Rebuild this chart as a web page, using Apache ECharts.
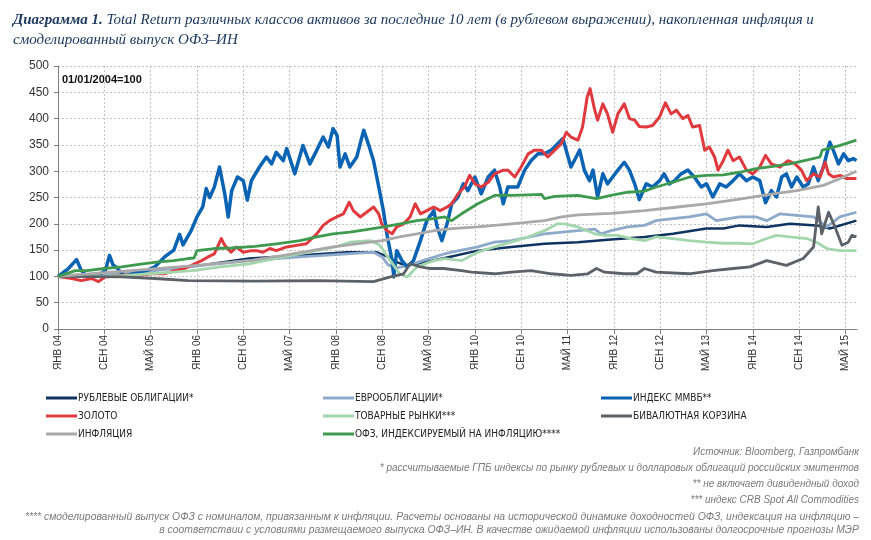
<!DOCTYPE html>
<html><head><meta charset="utf-8">
<script src="https://cdn.jsdelivr.net/npm/echarts@6/dist/echarts.min.js"></script>
<style>html,body{margin:0;padding:0;background:#fff}#c{width:871px;height:540px}</style>
</head><body><div id="c"></div>
<script>
// x = months since Jan 2004, y = index (01/01/2004 = 100)
const tickLabels = ['ЯНВ 04','СЕН 04','МАЙ 05','ЯНВ 06','СЕН 06','МАЙ 07','ЯНВ 08','СЕН 08','МАЙ 09','ЯНВ 10','СЕН 10','МАЙ 11','ЯНВ 12','СЕН 12','МАЙ 13','ЯНВ 14','СЕН 14','МАЙ 15'];
const yTicks = [0,50,100,150,200,250,300,350,400,450,500];

const rubBonds = [[0,100],[8,105],[16,112],[24,120],[33,134],[42,140],[50,146],[55,146],[57,137],[58.5,127],[60,121],[62,124],[66.8,135],[72.5,149],[78.3,156],[84,162],[89.8,165],[95.5,170],[101.3,175],[106.2,181],[112,191],[114.9,191],[117.7,197],[122.4,194],[126.4,200],[131,197],[133.3,191],[137.9,206]];
const euroBonds = [[0,100],[8,103],[16,110],[24,120],[33,130],[41.8,137],[50,143],[54.5,146],[56,137],[57,122],[58.5,116],[61,122],[63,130],[66.8,143],[68,146],[72.5,156],[75.4,165],[78.3,168],[84,181],[89.8,187],[92.7,190],[93.8,181],[95.5,187],[98.4,194],[101.3,197],[103.3,206],[106.2,210],[109,213],[112,219],[113.7,206],[117.7,213],[120.6,213],[122.4,206],[124.7,219],[127.6,216],[130.5,213],[132.8,194],[135,213],[137.9,222]];
const mmvb = [[0,100],[1,108],[1.8,115],[3.2,132],[4,112],[5,100],[7,102],[8.2,112],[8.9,140],[9.5,122],[10,118],[11.5,100],[13,105],[15.5,112],[16.7,118],[18.4,137],[20,150],[21,180],[21.6,160],[23,187],[24,213],[25,232],[25.6,267],[26.2,250],[27,270],[27.9,308],[28.8,257],[29.4,213],[30,263],[31,289],[32,282],[32.7,245],[33.4,282],[34.8,308],[36,327],[36.9,314],[37.7,336],[38.9,320],[39.5,343],[40.9,295],[42.3,349],[43.5,314],[44.7,340],[45.8,365],[46.7,346],[47.5,381],[48.2,368],[48.7,308],[49.6,333],[50.4,308],[51.6,327],[52.8,378],[53.6,352],[54.5,320],[55.4,270],[56.2,225],[56.8,181],[57.7,130],[58,99],[58.5,149],[59.4,130],[60.3,118],[61.4,130],[62.6,168],[63.7,206],[64.9,225],[65.5,194],[66.3,168],[67.2,200],[68,238],[69.1,251],[70,276],[70.8,263],[72,289],[73.1,257],[74.3,289],[75.4,302],[76.3,270],[76.9,238],[77.7,270],[79.4,270],[80.6,302],[81.7,320],[82.9,333],[84,333],[85.2,340],[86.3,352],[87.2,362],[88.1,327],[88.6,308],[89.5,327],[90.1,340],[90.9,302],[91.8,282],[92.4,302],[93.2,251],[94.1,295],[94.9,276],[95.8,289],[96.7,302],[97.8,317],[98.7,302],[99.6,276],[100.4,246],[101.6,276],[102.7,270],[103.9,282],[104.7,295],[105.6,276],[106.5,282],[107.6,295],[108.8,302],[109.9,289],[111.1,270],[112,276],[113.1,251],[114.3,276],[115.4,270],[116.6,282],[117.7,295],[118.9,282],[120,289],[121.2,282],[122.2,240],[123.2,263],[124.1,251],[125,289],[125.8,295],[126.7,270],[127.6,289],[128.7,270],[129.6,276],[130.5,308],[131.3,282],[132.2,308],[133.3,355],[133.9,340],[134.8,314],[135.7,333],[136.5,320],[137.4,324],[137.9,320]];
const gold = [[0,100],[2.4,96],[4,92],[5.8,96],[7,90],[8.1,99],[11,102],[14,102],[16.2,105],[18.4,105],[20.2,111],[21.9,115],[23.6,124],[24.8,130],[25.9,137],[27,143],[28.2,172],[28.8,159],[29.9,146],[30.8,156],[32,146],[33.4,149],[34.3,149],[35.4,146],[36.6,153],[37.7,149],[39.5,156],[41.2,159],[42.9,162],[44.7,181],[45.8,197],[46.9,206],[48.1,213],[49.3,219],[50.3,241],[51,225],[52.2,213],[53.3,222],[54.5,232],[55.4,219],[55.9,200],[56.8,187],[57.7,181],[58.5,194],[59.7,200],[60.8,213],[61.7,238],[62.6,219],[63.7,225],[64.9,232],[66,225],[67.2,232],[68,238],[69.1,257],[70.2,270],[71.1,292],[72,276],[73.1,270],[74.3,279],[75.4,295],[76.9,302],[77.7,302],[78.9,289],[80,308],[81.2,333],[82.3,340],[83.5,340],[84.6,327],[85.8,340],[86.9,352],[87.8,374],[88.6,365],[89.8,359],[90.6,384],[91.4,441],[91.9,457],[92.7,416],[93.2,397],[94.1,428],[94.9,409],[95.8,374],[96.7,409],[97.8,428],[98.7,400],[99.6,397],[100.4,385],[101.6,384],[102.7,387],[103.9,403],[104.9,430],[105.9,409],[106.8,416],[107.9,400],[108.8,406],[109.6,384],[110.8,387],[111.7,340],[112.5,346],[113.4,327],[114,302],[114.9,320],[115.7,340],[116.6,320],[117.7,327],[118.9,302],[120,295],[121.2,308],[122.2,330],[123.2,314],[124.7,308],[126.1,320],[127.3,314],[128.4,302],[129.3,282],[130.5,295],[131.6,289],[132.5,317],[133.1,295],[133.9,289],[135.1,292],[136.2,286],[137.9,286]];
const commodities = [[0,100],[4,104],[8,100],[12,102],[16,105],[20,108],[24,112],[28,118],[33,124],[39,137],[44.7,149],[48,156],[50.4,165],[54,168],[55.6,159],[57.4,130],[59,105],[60.3,99],[62,118],[64.9,130],[66.8,134],[69.7,130],[72.5,146],[75.4,156],[78.3,165],[81.2,175],[84,187],[86.3,200],[87.5,200],[89.8,194],[92.7,181],[94.4,178],[96.7,178],[99,172],[101.3,168],[103.3,175],[106.2,172],[109,168],[112,165],[114.9,163],[117.7,163],[120,162],[122.4,172],[124.1,178],[126.4,175],[129.3,172],[131,165],[132.8,153],[135,149],[137.9,149]];
const basket = [[0,100],[11,99],[16.7,96],[22.5,92],[34,91],[44.7,92],[54.5,90],[57.4,99],[59.7,105],[60.8,124],[62.6,118],[64.3,115],[66.6,115],[69.7,111],[71.4,108],[75.4,105],[78.3,108],[81.7,111],[85.2,105],[88.6,102],[91.5,105],[93,115],[94.4,108],[97.8,105],[100,105],[101.3,115],[103.3,108],[109,105],[113.1,111],[116.6,115],[119.5,118],[122.4,130],[125.8,121],[128.7,134],[130.5,156],[131.3,232],[131.9,181],[133.1,222],[134.2,194],[135.4,159],[136.5,165],[137.1,178],[137.9,175]];
const inflation = [[0,100],[8,107],[16,114],[24,121],[33,130],[39,140],[47.5,156],[56,168],[59,175],[62,181],[65,187],[68,191],[72.5,194],[78.3,200],[84,206],[87,213],[89.8,217],[95.5,220],[101.3,225],[106.2,231],[112,238],[117.7,247],[123.5,257],[127.6,263],[132.2,273],[135.1,286],[137.9,300]];
const ofzIn = [[0,100],[3,111],[5,111],[8,115],[11,118],[14,123],[17,127],[20,130],[22.5,134],[23.5,135],[24,149],[27,153],[30,154],[34,157],[37.7,162],[41.8,168],[44.7,175],[47.5,181],[50.4,184],[53.3,189],[56.2,194],[59.1,200],[62,206],[64.9,210],[66.8,213],[68,206],[69.7,219],[72.5,238],[75.4,254],[78.3,254],[81.2,255],[83.5,256],[84,248],[85.8,252],[89.8,254],[93,248],[95.5,254],[98.4,260],[101.3,262],[103.3,270],[106.2,279],[109.1,289],[112,292],[114.9,293],[117.7,298],[120.6,305],[123.5,309],[126.4,314],[129.3,321],[131.6,327],[132,340],[135.1,349],[137.9,359]];

const names = ['РУБЛЕВЫЕ ОБЛИГАЦИИ*','ЕВРООБЛИГАЦИИ*','ИНДЕКС ММВБ**','ЗОЛОТО','ТОВАРНЫЕ РЫНКИ***','БИВАЛЮТНАЯ КОРЗИНА','ИНФЛЯЦИЯ','ОФЗ, ИНДЕКСИРУЕМЫЙ НА ИНФЛЯЦИЮ****'];
const seriesData = [rubBonds, euroBonds, mmvb, gold, commodities, basket, inflation, ofzIn];
const colors = ['#0f3461','#8eaacb','#0b63b3','#e03a3e','#a4d6ae','#5c6268','#a9a9a9','#3f9a50'];
const widths = [2.5,2.8,3.5,3,2.8,2.8,2.8,2.8];

const footnotes = [
  'Источник: Bloomberg, Газпромбанк',
  '* рассчитываемые ГПБ индексы по рынку рублевых и долларовых облигаций российских эмитентов',
  '** не включает дивидендный доход',
  '*** индекс CRB Spot All Commodities',
  '**** смоделированный выпуск ОФЗ с номиналом, привязанным к инфляции. Расчеты основаны на исторической динамике доходностей ОФЗ, индексация на инфляцию –',
  'в соответствии с условиями размещаемого выпуска ОФЗ–ИН. В качестве ожидаемой инфляции использованы долгосрочные прогнозы МЭР'
];
const footY = [452, 468, 484, 500, 517, 530];
const footSize = [10, 10, 10, 10, 10.4, 10.4];

const chart = echarts.init(document.getElementById('c'), null, {renderer:'canvas'});
const legendFont = "'Liberation Sans Narrow','DejaVu Sans Condensed','Liberation Sans',sans-serif";
function mkLegend(idx, left) {
  return {
    orient: 'vertical', left: left, top: 386, itemWidth: 31, itemHeight: 3, itemGap: 4,
    icon: 'rect', data: idx.map(i => names[i]), selectedMode: false,
    textStyle: {fontFamily: legendFont, fontSize: 10, color: '#222', lineHeight: 14, padding: [0,0,0,-4]}
  };
}
const option = {
  animation: false,
  backgroundColor: '#fff',
  title: {
    left: 8, top: 5,
    text: '{b|Диаграмма 1.} Total Return различных классов активов за последние 10 лет (в рублевом выражении), накопленная инфляция и\nсмоделированный выпуск ОФЗ–ИН',
    textStyle: {
      fontFamily: "'Liberation Serif',serif", fontStyle: 'italic', fontWeight: 'normal', fontSize: 15, color: '#1f3a60', lineHeight: 20,
      rich: { b: {fontFamily: "'Liberation Serif',serif", fontStyle: 'italic', fontWeight: 'bold', fontSize: 15, color: '#1f3a60', lineHeight: 20} }
    }
  },
  legend: [mkLegend([0,3,6], 41), mkLegend([1,4,7], 318), mkLegend([2,5], 596)],
  grid: {left: 58, right: 14, top: 66, bottom: 211, containLabel: false},
  xAxis: {
    type: 'value', min: 0, max: 138, interval: 8,
    axisLine: {show: true, onZero: false, lineStyle: {color: '#7f7f7f', width: 1}},
    axisTick: {show: true, length: 5, lineStyle: {color: '#7f7f7f'}},
    axisLabel: {rotate: 90, margin: 6, fontSize: 10, color: '#333', fontFamily: "'Liberation Sans',Arial,sans-serif", showMaxLabel: false,
      formatter: v => (v % 8 === 0 ? (tickLabels[v / 8] || '') : '')},
    splitLine: {show: true, showMinLine: false, showMaxLine: false, lineStyle: {color: '#c4c4c4', type: [2,2], width: 1}}
  },
  yAxis: {
    type: 'value', min: yTicks[0], max: yTicks[yTicks.length-1], interval: 50,
    axisLine: {show: true, lineStyle: {color: '#7f7f7f', width: 1}},
    axisTick: {show: true, length: 4, lineStyle: {color: '#7f7f7f'}},
    axisLabel: {fontSize: 12, color: '#333', margin: 9, fontFamily: "'Liberation Sans',Arial,sans-serif"},
    splitLine: {show: true, showMinLine: false, lineStyle: {color: '#c4c4c4', type: [2,2], width: 1}}
  },
  series: seriesData.map((d, i) => ({
    name: names[i], type: 'line', data: d, showSymbol: false, symbol: 'none',
    lineStyle: {color: colors[i], width: widths[i], join: 'round'}, itemStyle: {color: colors[i]},
    z: 2 + i
  })),
  graphic: [
    {type: 'text', left: 62, top: 74, style: {text: '01/01/2004=100', font: "bold 11px 'Liberation Sans', Arial, sans-serif", fill: '#111'}}
  ].concat(footnotes.map((t, i) => ({
    type: 'text', x: 859, y: footY[i],
    style: {text: t, textAlign: 'right', textVerticalAlign: 'middle', font: 'italic ' + footSize[i] + "px 'Liberation Sans', Arial, sans-serif", fill: '#7a7a7a'}
  })))
};
chart.setOption(option);
</script>
</body></html>
